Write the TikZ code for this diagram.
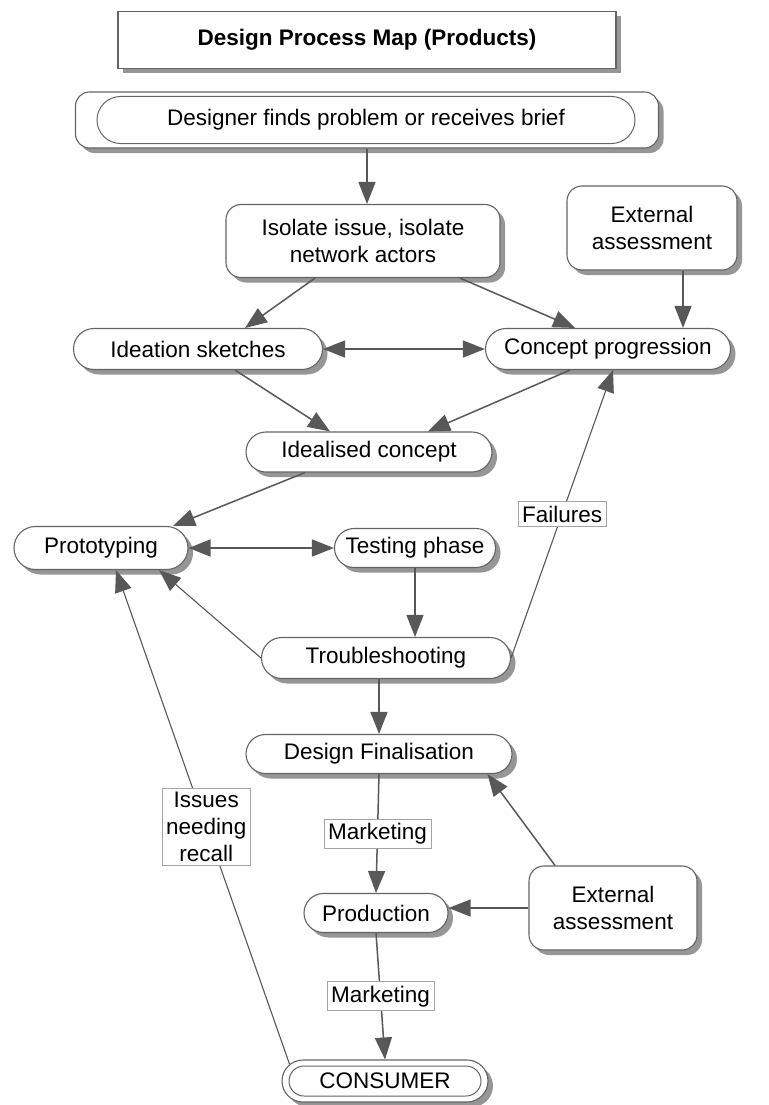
\documentclass[tikz,border=0pt]{standalone}
\usepackage{fontspec}
\setmainfont{Liberation Sans}
\usetikzlibrary{arrows.meta, positioning, shapes.misc, shadows}
\definecolor{LN}{RGB}{88,88,88}
\definecolor{BD}{RGB}{100,100,100}
\definecolor{SH}{RGB}{150,150,150}
\definecolor{LX}{RGB}{165,165,165}
\newcommand{\nodefont}{\fontsize{22.5}{27}\selectfont}

\begin{document}
\begin{tikzpicture}[x=1pt, y=-1pt,
  shd/.style={drop shadow={shadow xshift=5pt, shadow yshift=-5pt, fill=SH, opacity=1}},
  titlebox/.style={draw=BD, fill=white, line width=1.1pt, shd,
                   minimum width=498pt, minimum height=57pt, font=\bfseries\nodefont},
  box/.style 2 args={draw=BD, fill=white, line width=1.1pt, rounded corners=15pt, shd,
                     minimum width=#1, minimum height=#2, align=center, font=\nodefont},
  pill/.style 2 args={rounded rectangle, draw=BD, fill=white, line width=1.1pt, shd,
                      minimum width=#1, minimum height=#2, inner sep=2pt, font=\nodefont},
  inpill/.style 2 args={rounded rectangle, draw=BD, fill=white, line width=1pt,
                        minimum width=#1, minimum height=#2, inner sep=1pt, font=\nodefont},
  lbl/.style={draw=LX, fill=white, line width=0.8pt, inner sep=4pt,
              align=center, font=\nodefont},
  arr/.style={-{Triangle[length=22pt, width=17pt]}, line width=1.5pt, draw=LN},
  darr/.style={{Triangle[length=22pt, width=17pt]}-{Triangle[length=22pt, width=17pt]},
               line width=1.5pt, draw=LN},
  thinarr/.style={arr, line width=1.1pt}
]
\useasboundingbox (0,0) rectangle (768,1105);

% Title
\node[titlebox] (title) at (367,40) {Design Process Map (Products)};

% Start
\node[box={583pt}{56pt}, rounded corners=14pt] (startout) at (367,120) {};
\node[inpill={540pt}{47pt}] (startin) at (366,120) {Designer finds problem or receives brief};

% Concept stages
\node[box={274pt}{73pt}] (isolate) at (363,241) {Isolate issue, isolate\\network actors};
\node[box={170pt}{84pt}] (extA) at (652,228) {External\\assessment};
\node[pill={253pt}{41pt}] (ideation) at (198,349) {Ideation sketches};
\node[pill={249pt}{41pt}] (concept) at (608,349) {Concept progression};
\node[pill={250pt}{40pt}] (idealised) at (369,452) {Idealised concept};

% Prototype and test
\node[pill={178pt}{43pt}] (proto) at (101,548) {Prototyping};
\node[pill={165pt}{39pt}] (testing) at (415,548) {Testing phase};
\node[pill={253pt}{41pt}] (trouble) at (386,658) {Troubleshooting};

% Finalise and produce
\node[pill={270pt}{39pt}] (fin) at (379,754) {Design Finalisation};
\node[pill={148pt}{39pt}] (prod) at (376,913) {Production};
\node[box={168pt}{84pt}] (extB) at (613,908) {External\\assessment};
\node[pill={210pt}{42pt}] (consout) at (385,1081) {};
\node[inpill={194pt}{30pt}] (consin) at (385,1081) {CONSUMER};

% Arrows
\draw[arr] (startout.south) -- (startout.south |- isolate.north);
\draw[arr] ([xshift=-48pt]isolate.south) -- ([xshift=47pt]ideation.north);
\draw[arr] ([xshift=97pt]isolate.south) -- ([xshift=-33pt]concept.north);
\draw[arr] ([xshift=31pt]extA.south) -- ([xshift=31pt]extA.south |- concept.north);
\draw[darr] (ideation.east) -- (concept.west);
\draw[arr] ([xshift=37pt]ideation.south) -- ([xshift=-39pt]idealised.north);
\draw[arr] ([xshift=-38pt]concept.south) -- ([xshift=59pt]idealised.north);
\draw[arr] ([xshift=-64pt]idealised.south) -- ([xshift=72pt]proto.north);
\draw[darr] (proto.east) -- (testing.west);
\draw[arr] (testing.south) -- (testing.south |- trouble.north);
\draw[thinarr] (trouble.west) -- ([xshift=58pt]proto.south);
\draw[thinarr] (trouble.east) -- node[lbl] (fail) {Failures} ([xshift=5pt]concept.south);
\draw[arr] (fin.north |- trouble.south) -- (fin.north);
\draw[arr] (fin.south) -- node[lbl] (mkt1) {Marketing} (prod.north);
\draw[arr] ([xshift=-58pt]extB.north) -- ([xshift=-5pt]fin.south east);
\draw[arr] (extB.west) -- (extB.west -| prod.east);
\draw[arr] (prod.south) -- node[lbl] (mkt2) {Marketing} (consout.north);
\draw[thinarr] (consout.170) -- node[lbl, pos=0.48] (recall) {Issues\\needing\\recall}
  ([xshift=15pt]proto.south);
\end{tikzpicture}
\end{document}
